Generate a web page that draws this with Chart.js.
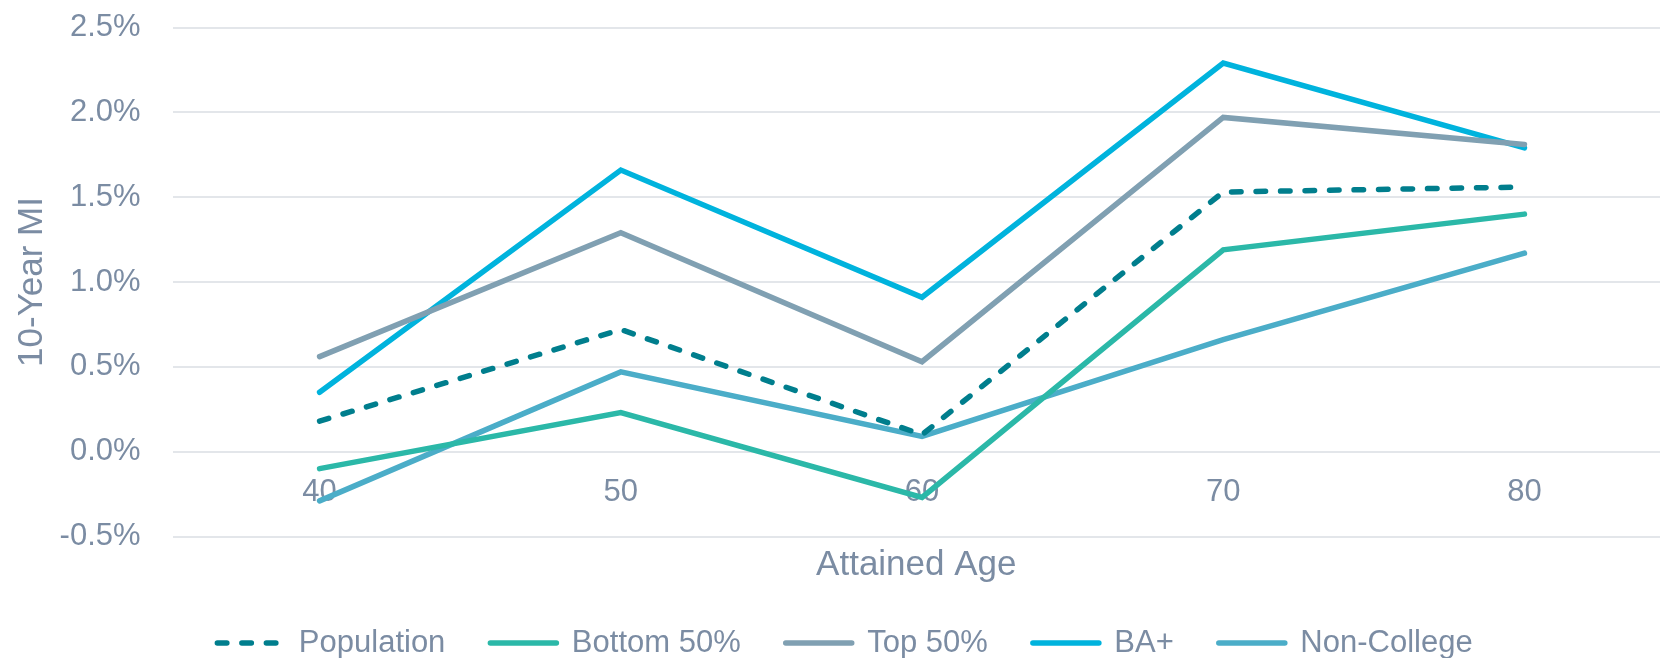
<!DOCTYPE html>
<html>
<head>
<meta charset="utf-8">
<script src="https://cdn.jsdelivr.net/npm/chart.js@4/dist/chart.umd.min.js"></script>
<style>
  html, body { margin: 0; padding: 0; background: #ffffff; overflow: hidden; }
  #wrap { width: 1660px; height: 658px; position: relative; }
</style>
</head>
<body>
<div id="wrap"><canvas id="chart"></canvas></div>
<script>
// Attained ages on the horizontal axis
const ages = [40, 50, 60, 70, 80];

// 10-year mortality improvement, in percent
const population = [0.18, 0.72, 0.10, 1.53, 1.56];
const bottom50   = [-0.10, 0.23, -0.27, 1.19, 1.40];
const top50      = [0.56, 1.29, 0.53, 1.97, 1.81];
const baPlus     = [0.35, 1.66, 0.91, 2.29, 1.79];
const nonCollege = [-0.29, 0.47, 0.09, 0.66, 1.17];

const seriesNames = ['Population', 'Bottom 50%', 'Top 50%', 'BA+', 'Non-College'];
const seriesValues = [population, bottom50, top50, baPlus, nonCollege];
const seriesColors = ['#007E8D', '#2BB8A8', '#80A0B2', '#00B3DD', '#4BADC8'];

const yTicks = [-0.5, 0, 0.5, 1.0, 1.5, 2.0, 2.5];

const textColor = '#7B8CA3';
const gridColor = '#E3E6EA';
const fontFamily = '"Liberation Sans", Arial, sans-serif';

const toPoints = vals => vals.map((v, i) => ({ x: ages[i], y: v }));

const datasets = seriesNames.map((name, i) => ({
  label: name,
  data: toPoints(seriesValues[i]),
  borderColor: seriesColors[i],
  backgroundColor: seriesColors[i],
  borderWidth: 5.5,
  borderCapStyle: 'round',
  borderJoinStyle: 'miter',
  borderDash: i === 0 ? [9.5, 15] : [],
  pointRadius: 0,
  pointHoverRadius: 0,
  tension: 0,
  fill: false,
  xAxisID: 'x',
  yAxisID: 'y'
}));

// x range: half a step of margin before age 40, a bit less after age 80
const xMin = 35.12;
const xMax = 84.5;

// Legend samples take their dash, cap and width from the line itself
function lineLegendLabels(chart) {
  const items = Chart.defaults.plugins.legend.labels.generateLabels(chart);
  items.forEach(item => {
    const ds = chart.data.datasets[item.datasetIndex];
    item.lineDash = ds.borderDash;
    item.lineCap = ds.borderCapStyle;
    item.lineWidth = ds.borderWidth;
    item.strokeStyle = ds.borderColor;
  });
  return items;
}

new Chart(document.getElementById('chart'), {
  type: 'line',
  data: { datasets },
  options: {
    responsive: true,
    maintainAspectRatio: false,
    animation: false,
    layout: { padding: { top: 27.5, right: 0, bottom: -10.5, left: 30 } },
    plugins: {
      tooltip: { enabled: false },
      legend: {
        position: 'bottom',
        fullSize: true,
        labels: {
          usePointStyle: true,
          pointStyle: 'line',
          pointStyleWidth: 66,
          padding: 45,
          color: textColor,
          font: { family: fontFamily, size: 31 },
          generateLabels: lineLegendLabels
        }
      }
    },
    scales: {
      x: {
        type: 'linear',
        position: { y: 0 },
        min: xMin,
        max: xMax,
        afterBuildTicks: axis => { axis.ticks = ages.map(v => ({ value: v })); },
        afterFit: axis => { axis.height = 0; },
        grid: { display: false, drawTicks: false },
        border: { display: false },
        ticks: {
          color: textColor,
          padding: 22,
          maxRotation: 0,
          font: { family: fontFamily, size: 31 },
          callback: v => String(v)
        }
      },
      x2: {
        type: 'linear',
        position: 'bottom',
        min: xMin,
        max: xMax,
        grid: { display: false, drawTicks: false },
        border: { display: false },
        ticks: { display: false },
        title: {
          display: true,
          text: 'Attained Age',
          color: textColor,
          padding: { top: 11, bottom: 0 },
          font: { family: fontFamily, size: 35, lineHeight: 1 }
        }
      },
      y: {
        type: 'linear',
        min: -0.5,
        max: 2.5,
        afterBuildTicks: axis => { axis.ticks = yTicks.map(v => ({ value: v })); },
        afterFit: axis => {
          axis.width = 142.6;
          axis.paddingTop = 0;
          axis.paddingBottom = 0;
        },
        grid: { color: gridColor, lineWidth: 2, drawTicks: false },
        border: { display: false },
        ticks: {
          color: textColor,
          padding: 32,
          font: { family: fontFamily, size: 31 },
          callback: v => v.toFixed(1) + '%'
        },
        title: {
          display: true,
          text: '10-Year MI',
          color: textColor,
          padding: { top: -19, bottom: 0 },
          font: { family: fontFamily, size: 35, lineHeight: 1.2 }
        }
      }
    }
  }
});
</script>
</body>
</html>
